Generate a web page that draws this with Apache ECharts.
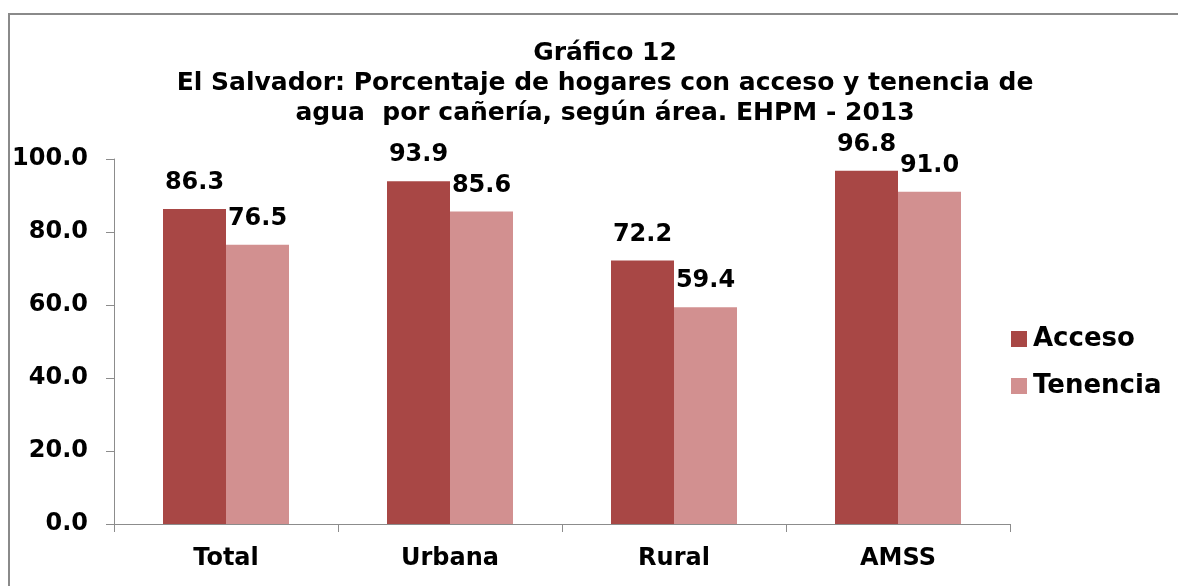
<!DOCTYPE html>
<html>
<head>
<meta charset="utf-8">
<script src="https://cdn.jsdelivr.net/npm/echarts@6/dist/echarts.min.js"></script>
<style>
  html, body { margin: 0; padding: 0; background: #fff; }
  #chart { width: 1178px; height: 586px; }
</style>
</head>
<body>
<div id="chart"></div>
<script>
const categories = ['Total', 'Urbana', 'Rural', 'AMSS'];
const acceso = [86.3, 93.9, 72.2, 96.8];
const tenencia = [76.5, 85.6, 59.4, 91.0];
const titleLines = [
    'Gráfico 12',
    'El Salvador: Porcentaje de hogares con acceso y tenencia de',
    'agua  por cañería, según área. EHPM - 2013'
];

const FONT = '"DejaVu Sans", Verdana, sans-serif';

let chart = echarts.init(document.getElementById('chart'));

let labelStyle = {
    show: true,
    position: 'top',
    distance: 14,
    color: '#000',
    fontFamily: FONT,
    fontWeight: 'bold',
    fontSize: 24,
    formatter: p => p.value.toFixed(1)
};

let option = {
    animation: false,
    textStyle: { fontFamily: FONT },
    // marco gris del gráfico
    graphic: [{
        type: 'rect',
        shape: { x: 9, y: 14, width: 1200, height: 600 },
        style: { fill: 'none', stroke: '#8a8a8a', lineWidth: 2 },
        silent: true
    }],
    title: {
        text: titleLines.join('\n'),
        left: 600,
        textAlign: 'center',
        top: 33,
        textStyle: {
            fontFamily: FONT,
            fontWeight: 'bold',
            fontSize: 25,
            lineHeight: 30,
            color: '#000'
        }
    },
    legend: {
        orient: 'vertical',
        left: 1006,
        top: 321,
        itemWidth: 16,
        itemHeight: 16,
        itemGap: 21,
        icon: 'rect',
        textStyle: { fontFamily: FONT, fontWeight: 'bold', fontSize: 26, color: '#000', padding: [0, 0, 0, 1] },
        data: ['Acceso', 'Tenencia']
    },
    grid: { left: 114, top: 159, width: 896, bottom: 62, containLabel: false },
    xAxis: {
        type: 'category',
        data: categories,
        axisLine: { lineStyle: { color: '#8c8c8c', width: 1 } },
        axisTick: { show: true, length: 8, lineStyle: { color: '#8c8c8c' } },
        axisLabel: { color: '#000', fontFamily: FONT, fontWeight: 'bold', fontSize: 24, margin: 23 }
    },
    yAxis: {
        type: 'value',
        min: 0,
        max: 100,
        interval: 20,
        axisLine: { show: true, lineStyle: { color: '#8c8c8c', width: 1 } },
        axisTick: { show: true, length: 8, lineStyle: { color: '#8c8c8c' } },
        splitLine: { show: false },
        axisLabel: {
            color: '#000', fontFamily: FONT, fontWeight: 'bold', fontSize: 24, margin: 26,
            formatter: v => v.toFixed(1)
        }
    },
    series: [
        {
            name: 'Acceso', type: 'bar', data: acceso,
            barWidth: 63, barGap: '0%',
            itemStyle: { color: '#a84745' },
            label: labelStyle
        },
        {
            name: 'Tenencia', type: 'bar', data: tenencia,
            barWidth: 63,
            itemStyle: { color: '#d29090' },
            label: labelStyle
        }
    ]
};

chart.setOption(option);
</script>
</body>
</html>
